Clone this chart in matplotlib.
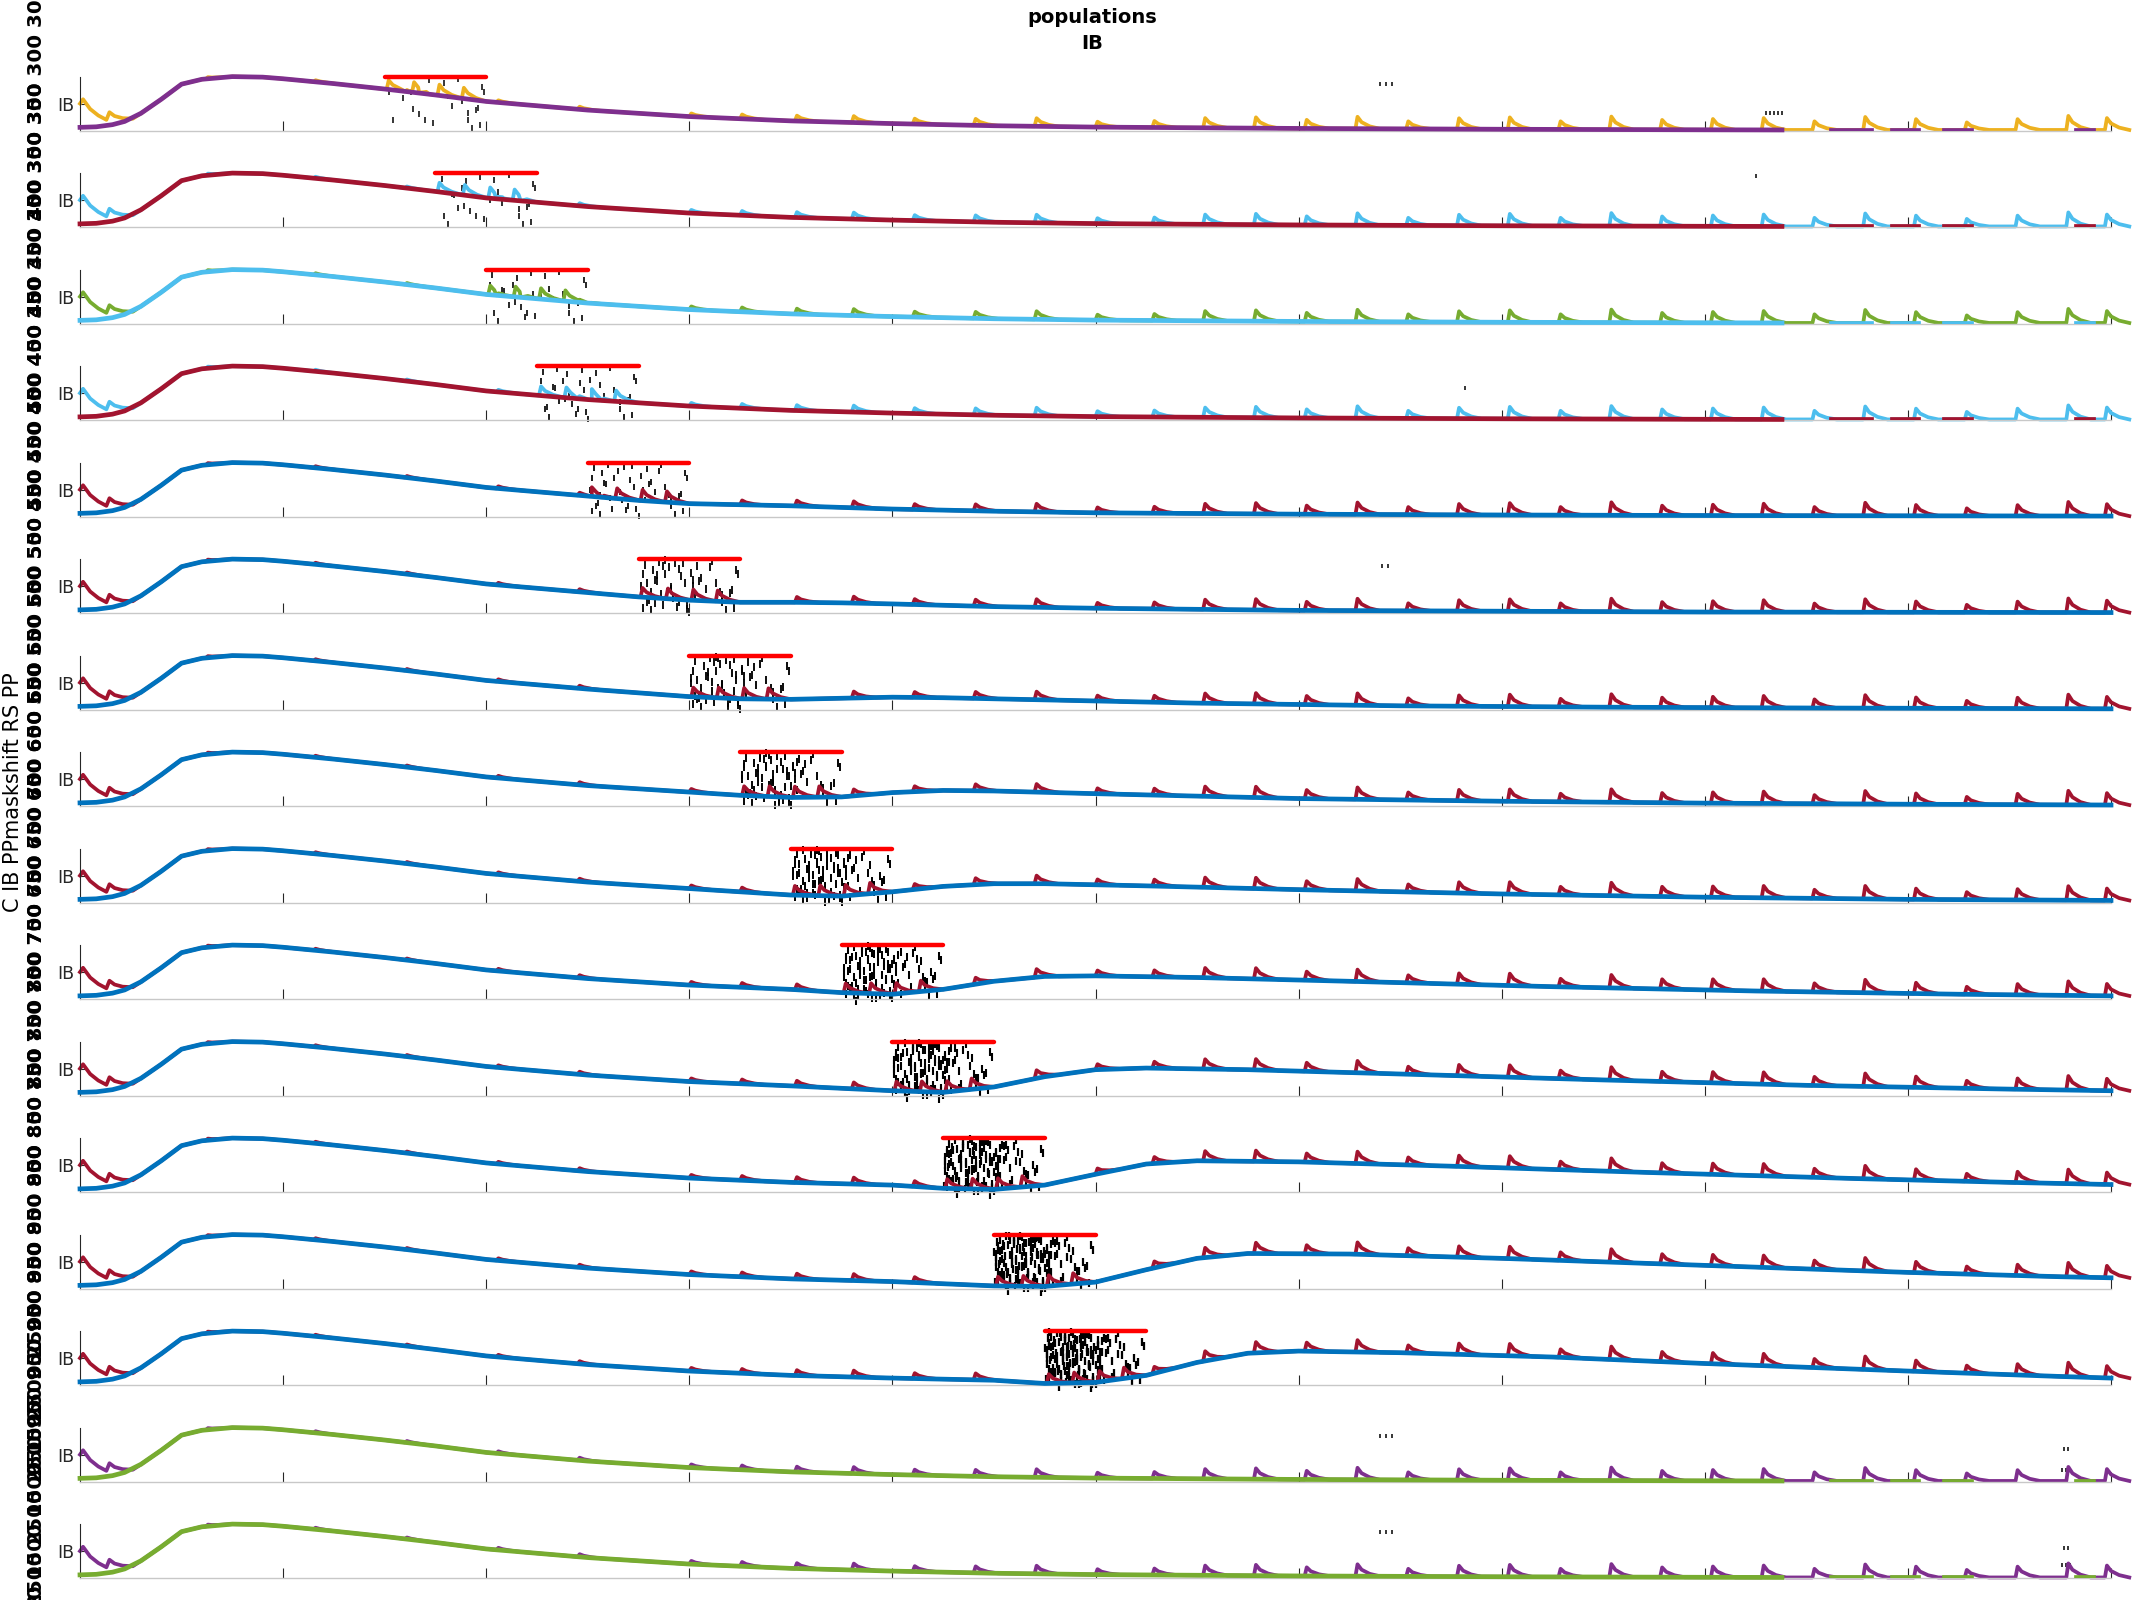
import numpy as np
import matplotlib.pyplot as plt

# MATLAB default line colours
YEL = '#EDB120'
PUR = '#7E2F8E'
LBL = '#4DBEEE'
GRN = '#77AC30'
RED = '#A2142F'
BLU = '#0072BD'

# first hump shared by all panels (time in ms, value in axis units 0..1)
HUMP_T = [0, 8, 16, 22, 30, 40, 50, 60, 75, 90, 100, 125, 150, 175, 200, 250,
          300, 350, 400, 450, 500, 600, 700, 800, 838]
HUMP_V = [0.06, 0.07, 0.11, 0.17, 0.32, 0.58, 0.86, 0.95, 1.0, 0.99, 0.96, 0.87,
          0.77, 0.66, 0.54, 0.38, 0.26, 0.18, 0.13, 0.09, 0.065, 0.04, 0.025,
          0.015, 0.012]

# spiking trace at the start
START_T = [0, 1.5, 5, 9, 13, 14.5, 17, 21, 26]
START_V = [0.50, 0.58, 0.40, 0.28, 0.20, 0.34, 0.27, 0.23, 0.22]

# spikes along the run
PRE_T = [62, 115, 160, 205, 245]
PRE_A = [0.03, 0.03, 0.03, 0.04, 0.05]
TAIL_T = [300, 325, 352, 380, 410, 440, 470, 500, 528, 553, 578, 603, 628, 653,
          678, 703, 728, 753, 778, 803, 828, 853, 878, 903, 928, 953, 978, 997]
TAIL_A = [0.06, 0.08, 0.10, 0.12, 0.10, 0.12, 0.15, 0.10, 0.12, 0.18, 0.20, 0.16,
          0.22, 0.14, 0.20, 0.22, 0.15, 0.24, 0.18, 0.20, 0.22, 0.16, 0.24, 0.20,
          0.14, 0.20, 0.26, 0.22]
BAR_DT = [1, 13.5, 26, 38]
BAR_A = [0.17, 0.19, 0.2, 0.2]

# panels: spiky colour, smooth colour, stimulus start
SPIKY_COL = [YEL, LBL, GRN, LBL] + [RED] * 10 + [PUR, PUR]
SMOOTH_COL = [PUR, RED, LBL, RED] + [BLU] * 10 + [GRN, GRN]
BAR_START = [150, 175, 200, 225, 250, 275, 300, 325, 350, 375, 400, 425, 450, 475, None, None]
YNUM = [300, 350, 400, 450, 500, 550, 600, 650, 700, 750, 800, 850, 900, 950, 2500, 1500]

# smooth trace after stimulus (panels 5..14)
AFTER_T = [
    [250, 275, 300, 325, 350, 400, 450, 500, 600, 700, 800, 1000],
    [275, 300, 325, 350, 375, 400, 450, 500, 600, 700, 800, 1000],
    [300, 325, 350, 375, 400, 425, 475, 550, 650, 750, 850, 1000],
    [325, 350, 375, 400, 425, 450, 500, 600, 700, 800, 900, 1000],
    [350, 375, 400, 425, 450, 475, 525, 600, 700, 800, 900, 1000],
    [375, 400, 425, 450, 475, 500, 550, 625, 725, 825, 925, 1000],
    [400, 425, 450, 475, 500, 525, 575, 650, 750, 850, 950, 1000],
    [425, 450, 475, 500, 525, 550, 600, 675, 775, 875, 950, 1000],
    [450, 475, 500, 525, 550, 575, 625, 700, 800, 900, 975, 1000],
    [475, 500, 525, 550, 575, 600, 650, 725, 800, 900, 975, 1000],
]
AFTER_V = [
    [0.38, 0.30, 0.24, 0.22, 0.20, 0.14, 0.10, 0.07, 0.045, 0.03, 0.02, 0.01],
    [0.30, 0.24, 0.20, 0.20, 0.19, 0.17, 0.12, 0.09, 0.05, 0.035, 0.02, 0.01],
    [0.24, 0.20, 0.19, 0.21, 0.23, 0.22, 0.18, 0.12, 0.07, 0.045, 0.03, 0.015],
    [0.20, 0.16, 0.17, 0.25, 0.29, 0.28, 0.23, 0.14, 0.09, 0.055, 0.035, 0.02],
    [0.14, 0.12, 0.20, 0.30, 0.35, 0.35, 0.31, 0.24, 0.16, 0.10, 0.06, 0.04],
    [0.12, 0.09, 0.18, 0.33, 0.42, 0.43, 0.40, 0.33, 0.23, 0.15, 0.09, 0.06],
    [0.09, 0.06, 0.16, 0.35, 0.48, 0.51, 0.48, 0.40, 0.29, 0.19, 0.12, 0.09],
    [0.07, 0.05, 0.13, 0.33, 0.52, 0.58, 0.56, 0.48, 0.36, 0.25, 0.18, 0.14],
    [0.05, 0.04, 0.12, 0.35, 0.56, 0.65, 0.64, 0.56, 0.43, 0.30, 0.22, 0.20],
    [0.03, 0.05, 0.18, 0.42, 0.59, 0.63, 0.60, 0.52, 0.40, 0.26, 0.16, 0.13],
]

# baseline pieces of the smooth trace after it stops (panels 1-4, 15, 16)
SEG_START = [862, 892, 918, 983]
SEG_END = [882, 905, 931, 991]
SEG_LEVEL = 0.012

# raster ticks relative to stimulus start
RASTER_DT = [22, 29, 2, 13, 48, 49, 38, 33, 14, 46, 45, 41, 41, 4, 20, 24, 43, 47, 9, 31, 36, 17, 6, 27,
             3, 8, 11, 15, 19, 23, 26, 5, 10, 16, 21, 25, 1, 7, 12, 18, 28, 30, 35, 40,
             2, 6, 9, 13, 17, 20, 24, 27, 4, 8, 12, 16, 22, 26, 3, 11, 14, 19, 23, 32,
             1, 5, 10, 15, 18, 21, 25, 28, 7, 13, 17, 24, 2, 9, 16, 22, 34, 39, 44, 29,
             3, 6, 11, 14, 20, 23, 26, 4, 8, 12, 18, 21, 27, 1, 10, 15, 19, 24, 37, 42,
             2, 5, 9, 13, 16, 22, 25, 7, 11, 17, 20, 26, 3, 8, 14, 19, 23, 31, 33, 28,
             1, 6, 10, 12, 18, 21, 24, 5, 15, 27, 30, 36,
             0.5, 2.5, 4.5, 6.5, 8.5, 10.5, 12.5, 14.5, 16.5, 18.5, 20.5, 22.5, 24.5,
             1.5, 3.5, 5.5, 7.5, 9.5, 11.5, 13.5, 15.5, 17.5, 19.5, 21.5, 23.5,
             0, 4, 8, 12, 16, 20, 24, 2, 6, 10, 14, 18, 22, 26, 11]
RASTER_Y = [0.93, 0.88, 0.72, 0.72, 0.80, 0.72, 0.55, 0.45, 0.40, 0.42, 0.38, 0.33, 0.20, 0.20, 0.20, 0.15, 0.05, 0.10, 0.60, 0.65, 0.96, 0.30, 0.05, 0.50,
            0.90, 0.62, 0.35, 0.85, 0.12, 0.55, 0.75, 0.25, 0.95, 0.45, 0.68, 0.02, 0.50, 0.80, 0.15, 0.92, 0.30, 0.60, 0.85, 0.40,
            0.10, 0.40, 0.70, 0.98, 0.28, 0.82, 0.08, 0.62, 0.55, 0.18, 0.88, 0.48, 0.35, 0.72, 0.25, 0.52, 0.95, 0.05, 0.65, 0.78,
            0.58, 0.22, 0.90, 0.42, 0.68, 0.12, 0.38, 0.82, 0.30, 0.75, 0.02, 0.55, 0.78, 0.45, 0.60, 0.92, 0.22, 0.70, 0.50, 0.10,
            0.52, 0.97, 0.18, 0.60, 0.45, 0.88, 0.28, 0.72, 0.08, 0.35, 0.80, 0.62, 0.15, 0.40, 0.86, 0.02, 0.92, 0.58, 0.75, 0.32,
            0.30, 0.78, 0.50, 0.10, 0.84, 0.38, 0.65, -0.04, 0.55, 0.25, 0.95, 0.48, 0.70, 0.20, 0.42, 0.75, -0.06, 0.88, 0.15, 0.62,
            0.65, 0.05, 0.82, 0.28, 0.52, 0.95, 0.10, 0.48, 0.68, 0.35, 0.85, 0.58,
            0.12, 0.46, 0.83, 0.27, 0.63, 0.05, 0.41, 0.77, 0.19, 0.58, 0.94, 0.33, 0.70,
            0.87, 0.24, 0.60, 0.97, 0.36, 0.73, 0.09, 0.50, 0.86, 0.22, 0.62, 0.02,
            0.68, 0.31, 0.90, 0.57, 0.14, 0.79, 0.44, 0.98, 0.53, 0.26, 0.66, 0.03, 0.39, 0.84, 0.71]
RASTER_N = [22, 28, 30, 36, 46, 56, 66, 80, 96, 112, 130, 148, 164, 176]

# stray raster ticks: panel index, time, level
EXTRA_P = [0, 0, 0, 0, 0, 0, 0, 0, 1, 3, 5, 5, 14, 14, 14, 14, 14, 14, 14, 14, 15, 15, 15, 15, 15, 15, 15, 15]
EXTRA_T = [640, 643, 646, 830, 832, 834, 836, 838, 825, 682, 641, 644,
           640, 643, 646, 977, 979, 976, 978, 980,
           640, 643, 646, 977, 979, 976, 978, 980]
EXTRA_Y = [0.87, 0.87, 0.87, 0.33, 0.33, 0.33, 0.33, 0.33, 0.95, 0.6, 0.87, 0.87,
           0.85, 0.85, 0.85, 0.6, 0.6, 0.22, 0.22, 0.22,
           0.85, 0.85, 0.85, 0.56, 0.56, 0.25, 0.25, 0.25]

SHAPE_DT = [0, 1, 3, 7, 12]
SHAPE_F = [0, 1, 0.55, 0.2, 0.0]


def spiky(base_t, base_v, spk_t, spk_a):
    bt = np.asarray(base_t, float)
    bv = np.asarray(base_v, float)
    keep = np.ones(len(bt), bool)
    xs, ys = [], []
    for t0, a in zip(spk_t, spk_a):
        keep &= ~((bt >= t0) & (bt <= t0 + SHAPE_DT[-1]))
        for d, f in zip(SHAPE_DT, SHAPE_F):
            xs.append(t0 + d)
            ys.append(np.interp(t0 + d, bt, bv) + f * a)
    xs += list(bt[keep])
    ys += list(bv[keep])
    o = np.argsort(xs, kind='stable')
    return np.array(xs)[o], np.array(ys)[o]


W, H = 2133, 1600
fig = plt.figure(figsize=(W / 100, H / 100), dpi=100)

for k in range(16):
    top = 76.6 + 96.5 * k
    ax = fig.add_axes([80 / W, 1 - (top + 54) / H, 2031 / W, 54 / H])
    bs = BAR_START[k]

    # smooth trace
    if 4 <= k <= 13:
        at, av = AFTER_T[k - 4], AFTER_V[k - 4]
        st = [t for t in HUMP_T if t < bs] + at
        sv = [v for t, v in zip(HUMP_T, HUMP_V) if t < bs] + av
        base_t, base_v = st, sv
    else:
        st, sv = HUMP_T, HUMP_V
        base_t, base_v = HUMP_T + [1000], HUMP_V + [SEG_LEVEL]

    # spiking trace
    bt = START_T + [t for t in base_t if t > START_T[-1]]
    bv = START_V + [v for t, v in zip(base_t, base_v) if t > START_T[-1]]
    spk_t = list(PRE_T)
    spk_a = list(PRE_A)
    for t, a in zip(TAIL_T, TAIL_A):
        if bs is None or not (bs - 12 <= t <= bs + 52):
            spk_t.append(t)
            spk_a.append(a)
    if bs is not None:
        spk_t += [bs + d for d in BAR_DT]
        spk_a += BAR_A
    o = np.argsort(spk_t)
    spk_t = [spk_t[i] for i in o]
    spk_a = [spk_a[i] for i in o]
    xs, ys = spiky(bt, bv, spk_t, spk_a)

    if bs is not None:
        n = RASTER_N[k]
        ax.plot(bs + np.array(RASTER_DT[:n]), RASTER_Y[:n], '|', color='k',
                ms=4.5 + 0.12 * k, mew=1.1 + 0.04 * k, clip_on=False, zorder=1)
    ex = [i for i, p in enumerate(EXTRA_P) if p == k]
    if ex:
        ax.plot([EXTRA_T[i] for i in ex], [EXTRA_Y[i] for i in ex], '|', color='k',
                ms=3.5, mew=1.1, clip_on=False, zorder=1)

    ax.plot(xs, ys, color=SPIKY_COL[k], lw=2.7, zorder=2, clip_on=False)
    ax.plot(st, sv, color=SMOOTH_COL[k], lw=3.4, zorder=3, clip_on=False)
    if not (4 <= k <= 13):
        for a, b in zip(SEG_START, SEG_END):
            ax.plot([a, b], [SEG_LEVEL, SEG_LEVEL], color=SMOOTH_COL[k], lw=3.4, zorder=3)
    if bs is not None:
        ax.plot([bs, bs + 50], [1.0, 1.0], color='#FF0000', lw=3.2,
                solid_capstyle='round', zorder=4, clip_on=False)

    ax.set_xlim(0, 1000)
    ax.set_ylim(0, 1)
    for s in ('top', 'right'):
        ax.spines[s].set_visible(False)
    ax.spines['left'].set_color('#262626')
    ax.spines['left'].set_linewidth(0.8)
    ax.spines['bottom'].set_color('#c8c8c8')
    ax.spines['bottom'].set_linewidth(1.0)
    ax.set_xticks(range(100, 1001, 100))
    ax.tick_params(axis='x', direction='in', length=7, width=0.8, color='#262626',
                   labelbottom=False)
    ax.set_yticks([0.5])
    ax.set_yticklabels(['IB'])
    ax.tick_params(axis='y', direction='in', length=4, width=0.8, color='#262626',
                   labelsize=12.5, labelcolor='#262626', pad=4)
    ax.patch.set_alpha(0)

    v = YNUM[k]
    fig.text(37 / W, 1 - (top + 27) / H, ' '.join([str(v)] * 5), rotation=90,
             ha='center', va='center', fontweight='bold', fontsize=14.3)

fig.text(13 / W, 0.505, 'C IB PPmaskshift RS PP', rotation=90, ha='center',
         va='center', fontsize=15)
fig.text(0.512, 0.995, 'populations\nIB', ha='center', va='top',
         fontweight='bold', fontsize=14, linespacing=1.45)

fig.savefig('out.png', dpi=100)
